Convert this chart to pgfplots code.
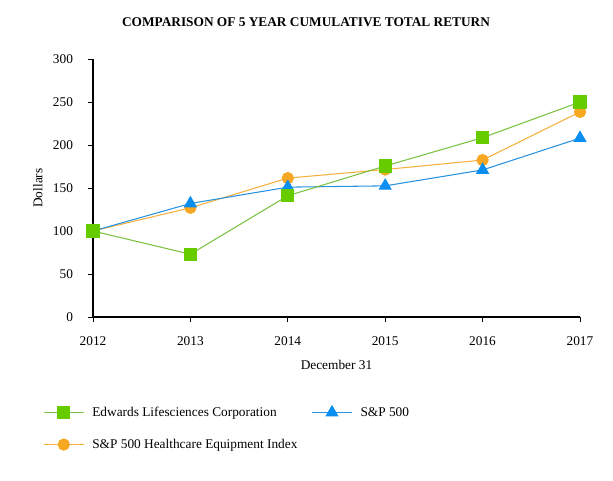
\documentclass[border=0pt]{standalone}
\usepackage{fontspec}
\setmainfont{Liberation Serif}
\usepackage{pgfplots}
\pgfplotsset{compat=1.18}

\definecolor{edwline}{HTML}{7CC242}
\definecolor{edwmark}{HTML}{66CC00}
\definecolor{spline}{HTML}{2A93E0}
\definecolor{spmark}{HTML}{0A8EF0}
\definecolor{hcline}{HTML}{F5B040}
\definecolor{hcmark}{HTML}{F7A823}

\pgfplotsset{
  edw/.style={edwline, line width=0.8pt, mark=square*, mark size=4.5pt,
    mark options={draw=edwmark, fill=edwmark}},
  sp/.style={spline, line width=0.8pt, mark=triangle*, mark size=5pt,
    mark options={draw=spmark, fill=spmark}},
  hc/.style={hcline, line width=0.8pt, mark=*, mark size=4.2pt,
    mark options={draw=hcmark, fill=hcmark}},
}

\begin{document}
\begin{tikzpicture}
\useasboundingbox (0pt,0pt) rectangle (459.75pt,360pt);
\node[font=\bfseries\fontsize{10}{12}\selectfont] at (229.5pt,343pt) {COMPARISON OF 5 YEAR CUMULATIVE TOTAL RETURN};
\begin{axis}[
    at={(69.75pt,122.25pt)}, anchor=south west,
    scale only axis,
    width=365.25pt, height=193.5pt,
    xmin=2012, xmax=2017, ymin=0, ymax=300,
    xtick={2012,...,2017}, ytick={0,50,...,300},
    x tick label style={/pgf/number format/1000 sep={}, yshift=-7.5pt},
    y tick label style={xshift=-7.5pt},
    /pgf/number format/assume math mode=true,
    tick label style={font=\fontsize{10}{12}\selectfont},
    label style={font=\fontsize{10}{12}\selectfont},
    axis lines*=left,
    axis line style={line width=1.1pt},
    tick align=outside, major tick length=4pt,
    tick style={black, line width=0.6pt},
    xtick pos=bottom, ytick pos=left,
    ylabel={Dollars}, xlabel={December 31},
    ylabel style={yshift=1pt},
    xlabel style={yshift=-3.5pt},
    clip=false,
    legend columns=2,
    legend cell align=left,
    legend style={draw=none, fill=none, inner sep=0pt,
        at={(-0.1027,-0.337)}, anchor=north west,
        font=\fontsize{10}{12}\selectfont,
        row sep=11.5pt,
        /tikz/every odd column/.append style={column sep=4pt},
        /tikz/every even column/.append style={column sep=8.5pt}},
    legend image code/.code={
        \draw[mark repeat=2,mark phase=2] plot coordinates {(0pt,0pt) (15pt,0pt) (30pt,0pt)};
    },
]
\addlegendimage{edw}
\addlegendentry{Edwards Lifesciences Corporation}
\addlegendimage{sp}
\addlegendentry{S\&P 500}
\addlegendimage{hc}
\addlegendentry{S\&P 500 Healthcare Equipment Index}
\addplot[hc, forget plot]
    coordinates {(2012,100) (2013,127) (2014,161.5) (2015,171.5) (2016,182.5) (2017,238.5)};
\addplot[sp, forget plot]
    coordinates {(2012,100) (2013,132) (2014,151) (2015,152.5) (2016,171) (2017,208)};
\addplot[edw, forget plot]
    coordinates {(2012,100) (2013,73) (2014,141) (2015,175.6) (2016,208.5) (2017,250)};
\end{axis}
\end{tikzpicture}
\end{document}
